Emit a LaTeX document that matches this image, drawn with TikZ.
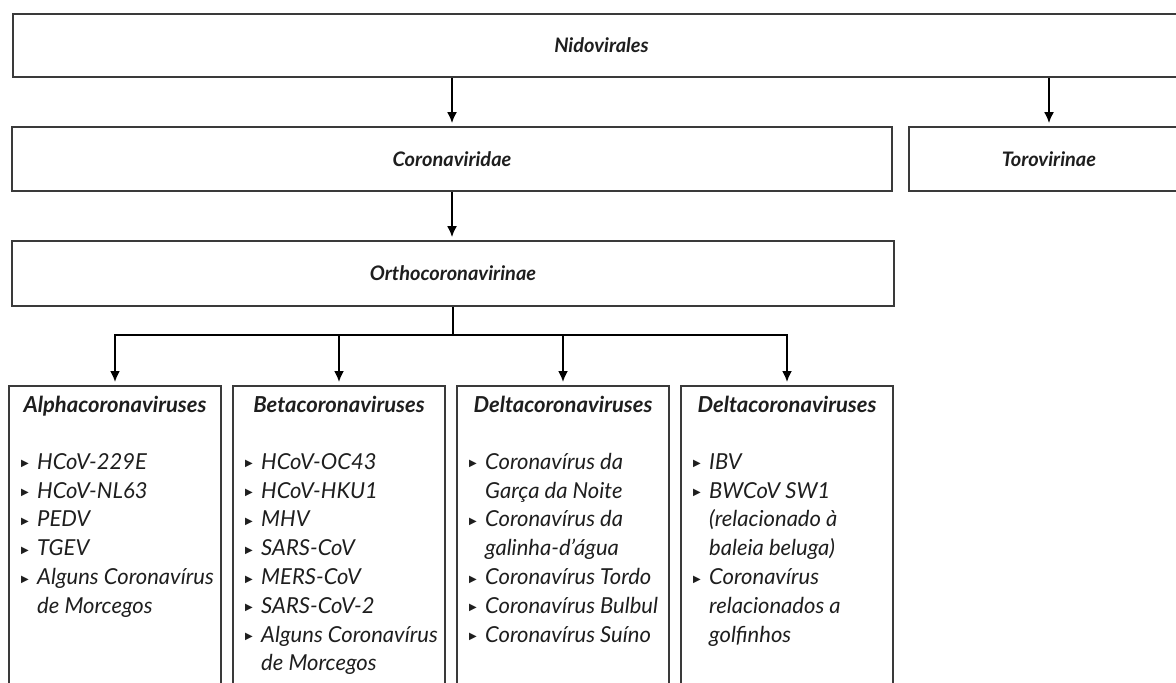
\documentclass[tikz,border=0pt]{standalone}
\usepackage{fontspec}
\setmainfont{Lato}
\newfontfamily\symfont{DejaVu Sans}
\usetikzlibrary{arrows.meta}

\definecolor{boxgray}{HTML}{3A3A3A}
\definecolor{textgray}{HTML}{1E1E1E}
\newcommand{\itm}{\strut\makebox[16pt][l]{\raisebox{2.5pt}{\symfont\fontsize{10}{10}\selectfont ▶}}}
\newcommand{\cnt}{\strut\hspace*{16pt}}

\tikzset{
  taxbox/.style={draw=boxgray, line width=1.8pt, inner sep=0pt, text=textgray,
    font=\fontsize{20}{24}\selectfont\bfseries\itshape},
  catbox/.style={draw=boxgray, line width=1.8pt, minimum width=212pt,
    minimum height=330pt, anchor=north},
  cattitle/.style={anchor=base, inner sep=0pt, text=textgray,
    font=\fontsize{22}{26}\selectfont\bfseries\itshape},
  catlist/.style={anchor=north west, inner sep=0pt, align=left, text=textgray,
    font=\fontsize{22}{28.8}\selectfont\itshape},
  arr/.style={-{Latex[length=11pt,width=10pt]}, line width=1.8pt, shorten >=3pt},
}

\begin{document}
\begin{tikzpicture}[x=1pt, y=-1pt]
  \useasboundingbox (0,0) rectangle (1176,683);
  \clip (0,0) rectangle (1176,683);

  \node[taxbox, minimum width=1177pt, minimum height=63pt] (nido) at (601.5,45.5) {Nidovirales};
  \node[taxbox, minimum width=880pt, minimum height=64pt] (corona) at (452,159) {Coronaviridae};
  \node[taxbox, minimum width=280pt, minimum height=64pt] (toro) at (1049,159) {Torovirinae};
  \node[taxbox, minimum width=882pt, minimum height=65pt] (ortho) at (453,273.5) {Orthocoronavirinae};

  \draw[arr] (nido.south -| corona.north) -- (corona.north);
  \draw[arr] (nido.south -| toro.north) -- (toro.north);
  \draw[arr] (corona.south) -- (corona.south |- ortho.north);

  \node[catbox] (alpha) at (115,385) {};
  \node[catbox] (beta) at (339,385) {};
  \node[catbox] (gama) at (563,385) {};
  \node[catbox] (delta) at (787,385) {};

  \coordinate (fork) at (453,335);
  \draw[line width=1.8pt] (ortho.south) -- (fork);
  \foreach \n in {alpha,beta,gama,delta}
    \draw[arr] (fork) -| (\n.north);

  \node[cattitle] (alphat) at (115,412) {Alphacoronaviruses};
  \node[cattitle] (betat) at (339,412) {Betacoronaviruses};
  \node[cattitle] (gamat) at (563,412) {Deltacoronaviruses};
  \node[cattitle] (deltat) at (787,412) {Deltacoronaviruses};

  \node[catlist] (alphal) at (21,449) {\itm HCoV-229E\\ \itm HCoV-NL63\\ \itm PEDV\\ \itm TGEV\\
    \itm Alguns Coronavírus\\ \cnt de Morcegos};
  \node[catlist] (betal) at (245,449) {\itm HCoV-OC43\\ \itm HCoV-HKU1\\ \itm MHV\\ \itm SARS-CoV\\
    \itm MERS-CoV\\ \itm SARS-CoV-2\\ \itm Alguns Coronavírus\\ \cnt de Morcegos};
  \node[catlist] (gamal) at (469,449) {\itm Coronavírus da\\ \cnt Garça da Noite\\
    \itm Coronavírus da\\ \cnt galinha-d'água\\ \itm Coronavírus Tordo\\
    \itm Coronavírus Bulbul\\ \itm Coronavírus Suíno};
  \node[catlist] (deltal) at (693,449) {\itm IBV\\ \itm BWCoV SW1\\ \cnt (relacionado à\\
    \cnt baleia beluga)\\ \itm Coronavírus\\ \cnt relacionados a\\ \cnt golfinhos};
\end{tikzpicture}
\end{document}
